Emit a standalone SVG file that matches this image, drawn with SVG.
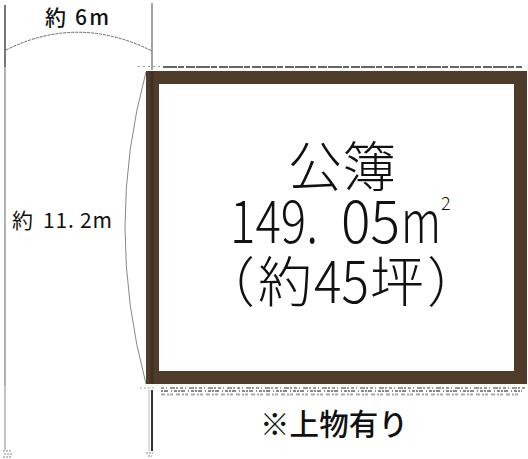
<svg xmlns="http://www.w3.org/2000/svg" width="528" height="459" viewBox="0 0 528 459">
<style>
text{font-family:"Noto Sans CJK JP","Liberation Sans",sans-serif;fill:#111}
.big{font-size:54px;font-weight:300}
.num{font-size:59px;font-weight:300}
</style>
<rect width="528" height="459" fill="#fff"/>
<g id="dimensions" fill="none">
<path d="M5 5V67" stroke="#555" stroke-width="1.6"/>
<path d="M5 67V386" stroke="#8a8a8a" stroke-width="1.3"/>
<path d="M5 386V450" stroke="#aaa" stroke-width="1.4"/>
<path d="M152 3V70" stroke="#666" stroke-width="1.2"/>
<path d="M152 390V451" stroke="#333" stroke-width="2"/>
<path d="M149 390V451" stroke="#bbb" stroke-width="1"/>
<path d="M6 50Q78 14 152 51" stroke="#666" stroke-width="1" stroke-dasharray="3 1"/>
<path d="M146 72Q104 226 146 384" stroke="#888" stroke-width="1"/>
</g>
<g id="noise" fill="none">
<path d="M163 67H522" stroke="#333" stroke-width="1.500" stroke-dasharray="14 1 6 2 9 1"/>
<path d="M138 66.500H160" stroke="#999" stroke-width="1" stroke-dasharray="2 3"/>
<path d="M161 388H525" stroke="#999" stroke-width="2" stroke-dasharray="3 2 1 3 5 1 2 2"/>
<path d="M161 391H522" stroke="#888" stroke-width="2" stroke-dasharray="2 1 4 3 1 2 3 1"/>
<path d="M161 394.500H518" stroke="#aaa" stroke-width="2" stroke-dasharray="4 2 2 1 3 3"/>
<path d="M140 388H154" stroke="#aaa" stroke-width="1" stroke-dasharray="2 2"/>
<path d="M3 451H12M4 454H12M3 457H11M146 453H153M148 456H152" stroke="#aaa" stroke-width="1.500" stroke-dasharray="2 1"/>
</g>
<g id="lot">
<rect x="152.500" y="77.500" width="368" height="300" fill="#fff" stroke="#4e3b2a" stroke-width="13"/>
<path d="M152 71V384" stroke="#36291e" stroke-width="3" opacity=".6"/>
</g>
<g id="labels">
<text x="45" y="25" font-size="21" font-weight="500" fill="#333" textLength="64" lengthAdjust="spacing">約 6m</text>
<text x="12" y="228" font-size="21">約</text>
<text x="43" y="228" font-size="21" textLength="69" lengthAdjust="spacing">11. 2m</text>
<text class="big" x="288" y="187">公簿</text>
<text class="num" x="230" y="243" textLength="88" lengthAdjust="spacingAndGlyphs">149.</text>
<text class="num" x="341" y="243" textLength="59" lengthAdjust="spacingAndGlyphs">05</text>
<text class="num" x="401" y="243" textLength="40" lengthAdjust="spacingAndGlyphs">m</text>
<text x="441" y="210" font-size="18" font-weight="300">2</text>
<text class="big" x="201" y="302">（</text>
<text class="big" x="258" y="302">約</text>
<text class="num" x="314" y="303" textLength="55" lengthAdjust="spacingAndGlyphs">45</text>
<text class="big" x="370" y="302">坪</text>
<text class="big" x="427" y="302">）</text>
<text x="334" y="435" text-anchor="middle" font-size="29.500" font-weight="500" fill="#000" textLength="148" lengthAdjust="spacing">※上物有り</text>
</g>
</svg>
